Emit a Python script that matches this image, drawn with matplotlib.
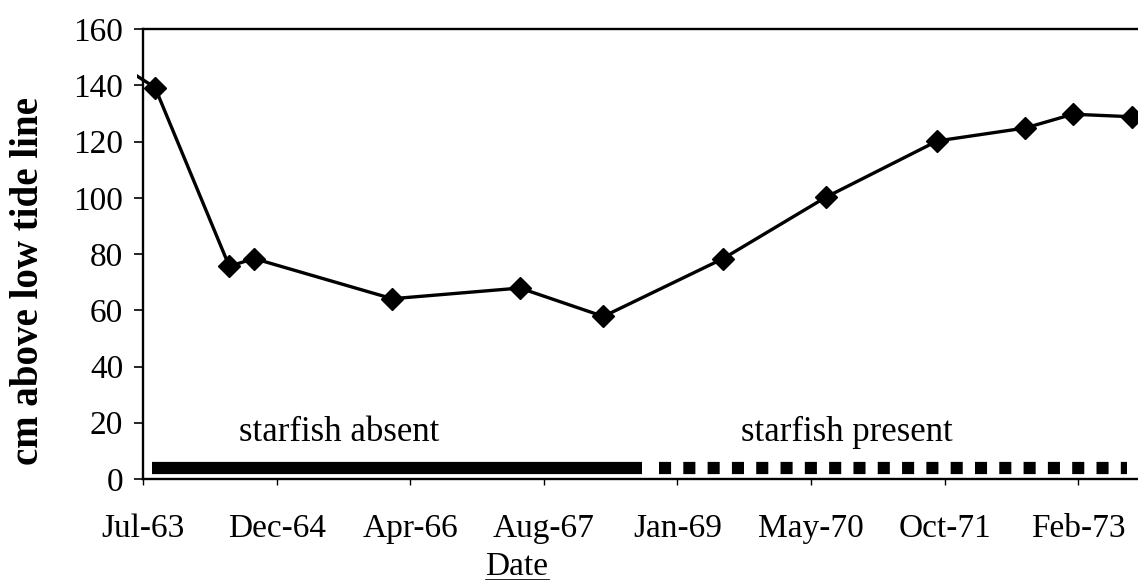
import numpy as np
import matplotlib
matplotlib.use('Agg')
import matplotlib.pyplot as plt
import matplotlib.dates as mdates
from matplotlib.lines import Line2D
from matplotlib.transforms import Bbox, TransformedBbox

plt.rcParams['font.family'] = ['Liberation Serif', 'DejaVu Serif']
plt.rcParams['lines.scale_dashes'] = False

# survey dates and upper limit of the mussel bed (cm above low tide line)
dates = ['1963-02-21', '1963-09-04', '1964-06-08', '1964-09-08', '1966-02-08',
         '1967-06-01', '1968-04-08', '1969-07-01', '1970-07-20', '1971-09-10',
         '1972-08-04', '1973-01-29', '1973-09-06']
heights = [151, 139.2, 75.6, 78.4, 64.1, 67.9, 57.8, 78.4, 100.2, 120.2,
           124.8, 129.7, 128.8]

# periods shown by the bars at the bottom
absent_period = ['1963-08-22', '1968-08-31']
present_period = ['1968-11-02', '1973-08-18']
period_labels = ['starfish absent', 'starfish present']
period_label_dates = ['1965-07-23', '1970-10-07']

yticks = [0, 20, 40, 60, 80, 100, 120, 140, 160]

dates = np.array(dates, dtype='datetime64[D]')
absent_period = np.array(absent_period, dtype='datetime64[D]')
present_period = np.array(present_period, dtype='datetime64[D]')
period_label_dates = np.array(period_label_dates, dtype='datetime64[D]')

start = np.datetime64('1963-07-21')
xticks = start + np.arange(8) * 500

fig = plt.figure(figsize=(11.38, 5.80), dpi=100)
ax = fig.add_axes([143 / 1138, 1 - 479 / 580, 1 - 143 / 1138, 450 / 580])

line, = ax.plot(dates, heights, color='black', lw=2.4, marker='D', ms=11,
                mec='black', mfc='black')
# excel lets the line poke a little past the axis
line.set_clip_path(None)
line.set_clip_box(TransformedBbox(Bbox([[-0.006, 0], [1, 1]]), ax.transAxes))

ax.plot(absent_period, [4, 4], color='black', lw=8.8, solid_capstyle='butt')
ax.plot(present_period, [4, 4], color='black', lw=8.8, dashes=(8.7, 8.8),
        dash_capstyle='butt')

for d, lab in zip(period_label_dates, period_labels):
    ax.text(d, 13.5, lab, ha='center', va='baseline', fontsize=25)

ax.set_xlim(start, start + 3724)
ax.set_ylim(0, 160)
ax.set_xticks(xticks)
ax.xaxis.set_major_formatter(mdates.DateFormatter('%b-%y'))
ax.set_yticks(yticks)

for s in ['left', 'bottom', 'top']:
    ax.spines[s].set_linewidth(1.7)
ax.spines['right'].set_visible(False)
ax.tick_params(axis='y', direction='out', length=6.3, width=1.2, pad=8,
               labelsize=24)
ax.tick_params(axis='x', direction='out', length=4.5, width=1.0, pad=20,
               labelsize=24)

fig.text(29 / 1138, 1 - 281 / 580, 'cm above low tide line', rotation=90,
         ha='center', va='center', fontsize=28, fontweight='bold')
date_txt = fig.text(517 / 1138, 1 - 575 / 580, 'Date',
                    ha='center', va='baseline', fontsize=24)

# underline the axis title
fig.canvas.draw()
bb = date_txt.get_window_extent()
uy = bb.y0 + 2
fig.add_artist(Line2D([bb.x0, bb.x1], [uy, uy], color='black', lw=1.2,
                      transform=None))

fig.savefig('out.png', dpi=100)
